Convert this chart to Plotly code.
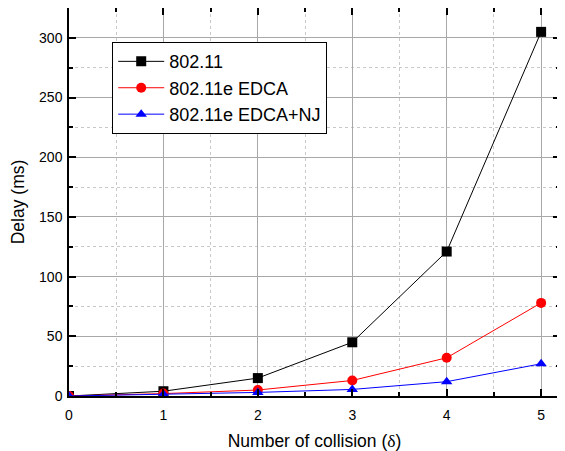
import plotly.graph_objects as go

x_vals = [0, 1, 2, 3, 4, 5]
s_80211 = [0, 4, 15, 45, 121, 305]
s_edca = [0, 2, 5, 13, 32, 78]
s_nj = [0, 1.5, 3, 5.5, 12, 27]

names = ["802.11", "802.11e EDCA", "802.11e EDCA+NJ"]
colors = ["black", "red", "blue"]
symbols = ["square", "circle", "triangle-up"]
series = [s_80211, s_edca, s_nj]

fig = go.Figure()
for n, c, s, y in zip(names, colors, symbols, series):
    fig.add_trace(go.Scatter(x=x_vals, y=y, name=n, mode="lines+markers",
                             line=dict(color=c, width=1),
                             marker=dict(symbol=s, color=c, size=10),
                             cliponaxis=True))

axis_common = dict(
    showline=True, linecolor="black", linewidth=1.5, mirror="allticks",
    ticks="inside", ticklen=7, tickwidth=1.5, tickcolor="black",
    showgrid=True, gridcolor="#a8a8a8", gridwidth=1, zeroline=False,
    tickfont=dict(family="Liberation Sans, Arial", size=14, color="black"),
)

# The page body has an 8px default margin, so the figure is sized to fit the window.
fig.update_layout(
    width=557, height=443,
    margin=dict(l=61, r=5, t=0, b=55, autoexpand=False),
    paper_bgcolor="white", plot_bgcolor="white",
    font=dict(family="Liberation Sans, Arial", color="black"),
    xaxis=dict(range=[0, 5.2], dtick=1, tick0=0, ticklabelstandoff=5,
               title=dict(text="Number of collision (<span style='font-family:Liberation Serif'>δ</span>)",
                          font=dict(size=17.5), standoff=14),
               minor=dict(dtick=0.5, showgrid=True, griddash="dot", gridcolor="#c8c8c8",
                          ticks="inside", ticklen=4, tickcolor="black"),
               **axis_common),
    yaxis=dict(range=[0, 325], dtick=50, tick0=0, ticklabelstandoff=2,
               title=dict(text="Delay (ms)", font=dict(size=17.5), standoff=12),
               minor=dict(dtick=25, showgrid=True, griddash="dot", gridcolor="#c8c8c8",
                          ticks="inside", ticklen=4, tickcolor="black"),
               **axis_common),
    legend=dict(x=0.088, y=0.912, xanchor="left", yanchor="top",
                bgcolor="white", bordercolor="black", borderwidth=1,
                font=dict(size=18, family="Liberation Sans, Arial"),
                tracegroupgap=0, itemwidth=46),
    showlegend=True,
)

fig.write_html("out.html")
